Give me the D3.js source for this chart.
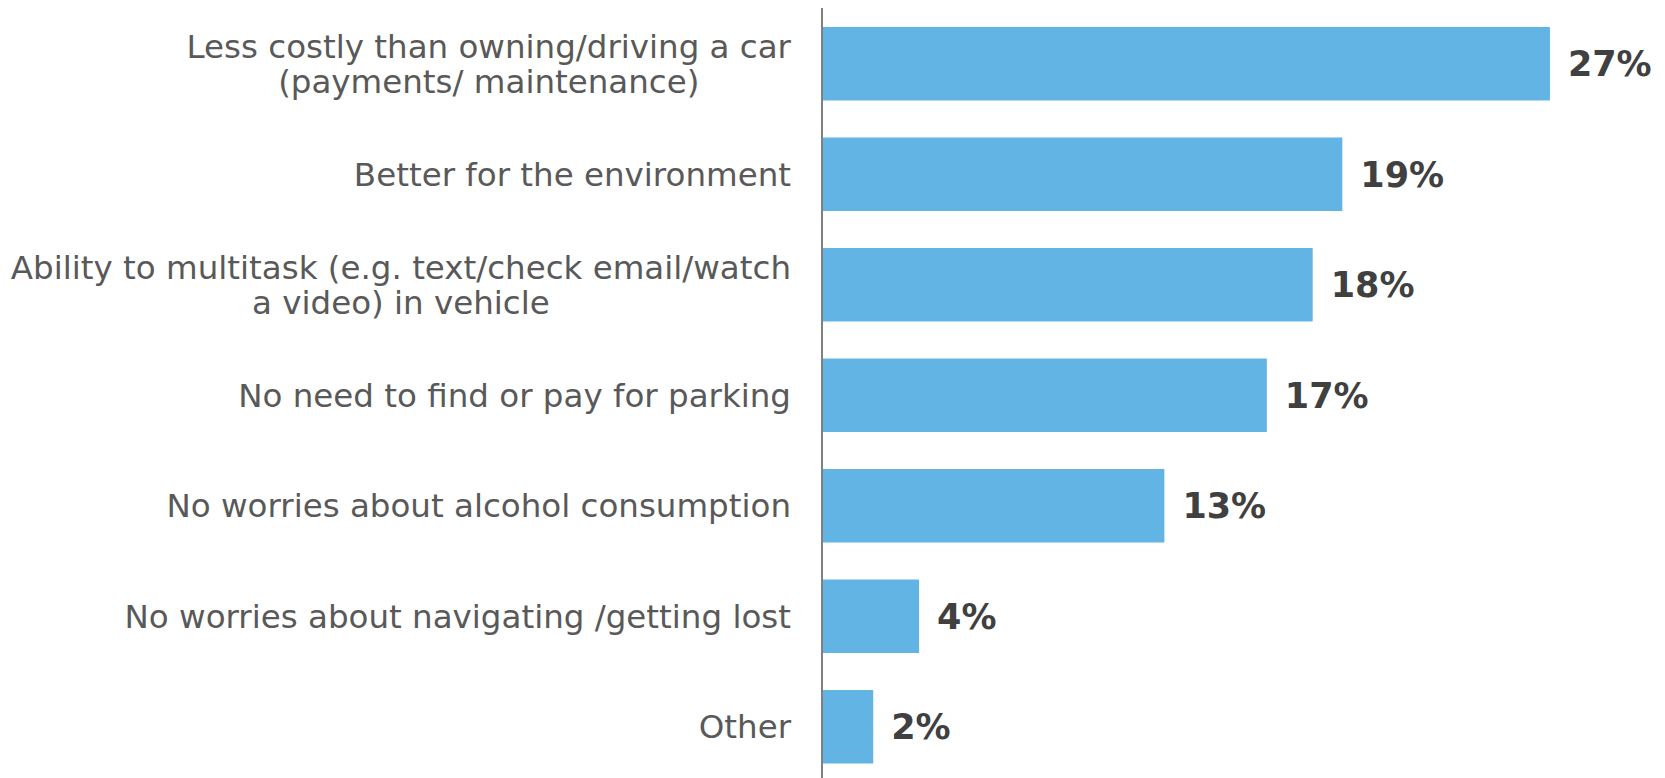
<!DOCTYPE html>
<html>
<head>
<meta charset="utf-8">
<script src="https://cdn.jsdelivr.net/npm/d3@7/dist/d3.min.js"></script>
<style>
  html, body { margin: 0; padding: 0; background: #ffffff; }
  svg { display: block; }
</style>
</head>
<body>
<svg id="chart" width="1665" height="778"></svg>
<script>
// ---- data ----
const categories = [
  ["Less costly than owning/driving a car", "(payments/ maintenance)"],
  ["Better for the environment"],
  ["Ability to multitask (e.g. text/check email/watch", "a video) in vehicle"],
  ["No need to find or pay for parking"],
  ["No worries about alcohol consumption"],
  ["No worries about navigating /getting lost"],
  ["Other"]
];
const values = [27.0, 19.3, 18.2, 16.5, 12.7, 3.6, 1.9];
const valueLabels = ["27%", "19%", "18%", "17%", "13%", "4%", "2%"];

// ---- layout ----
const W = 1665, H = 778;
const axisX = 822;
const svg = d3.select("#chart");

const ids = categories.map((c, i) => i);
const y = d3.scaleBand()
  .domain(ids)
  .range([8.2, 782.3])
  .paddingInner(0.335)
  .paddingOuter(0.17);

const x = d3.scaleLinear()
  .domain([0, 30])
  .range([axisX, axisX + 30 * 26.96]);

// bars
svg.append("g").selectAll("rect")
  .data(values)
  .join("rect")
  .attr("x", x(0))
  .attr("y", (d, i) => y(i))
  .attr("width", d => x(d) - x(0))
  .attr("height", y.bandwidth())
  .attr("fill", "#62b4e4");

// axis line
svg.append("line")
  .attr("x1", axisX).attr("x2", axisX)
  .attr("y1", 8).attr("y2", H)
  .attr("stroke", "#808080")
  .attr("stroke-width", 2);

// value labels
svg.append("g").selectAll("text")
  .data(values)
  .join("text")
  .attr("x", d => x(d) + 18)
  .attr("y", (d, i) => y(i) + y.bandwidth() / 2)
  .attr("dy", "0.36em")
  .attr("font-family", "'DejaVu Sans', Verdana, sans-serif")
  .attr("font-weight", "bold")
  .attr("font-size", 35)
  .attr("fill", "#404040")
  .text((d, i) => valueLabels[i]);

// category labels
const labelRight = 791;
const lineH = 35.5;
const catG = svg.append("g")
  .attr("font-family", "'DejaVu Sans', Verdana, sans-serif")
  .attr("font-size", 32.5)
  .attr("fill", "#595959");

categories.forEach((lines, i) => {
  const cy = y(i) + y.bandwidth() / 2;
  const t = catG.append("text").attr("text-anchor", "middle");
  const spans = lines.map((ln, k) =>
    t.append("tspan")
      .attr("y", cy + (k - (lines.length - 1) / 2) * lineH)
      .attr("dy", "0.36em")
      .text(ln)
  );
  const maxW = d3.max(spans, s => s.node().getComputedTextLength());
  spans.forEach(s => s.attr("x", labelRight - maxW / 2));
});
</script>
</body>
</html>
